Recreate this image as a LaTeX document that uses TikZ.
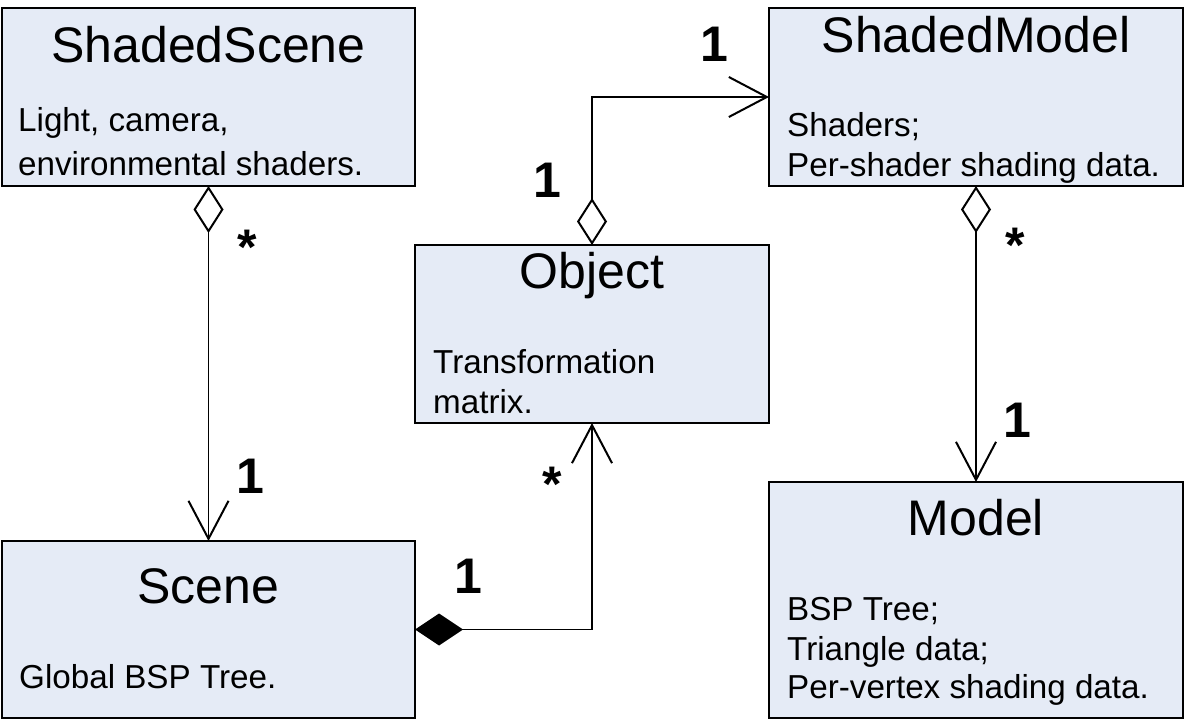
\documentclass[tikz,border=0pt]{standalone}
\usepackage{fontspec}
\setmainfont{Liberation Sans}
\usetikzlibrary{arrows.meta}
\definecolor{boxfill}{RGB}{229,235,246}
\tikzset{
  box/.style={draw=black, fill=boxfill, line width=2.6bp, inner sep=0pt, outer sep=0pt, anchor=north west},
  title/.style={inner sep=0pt, anchor=base, font=\fontsize{50bp}{60bp}\selectfont},
  body/.style={inner sep=0pt, anchor=base west, font=\fontsize{33.2bp}{40bp}\selectfont},
  mult/.style={inner sep=0pt, font=\fontsize{50bp}{58bp}\selectfont\bfseries},
  conn/.style={draw=black, line width=1.6bp},
  agg/.style={{Diamond[open, fill=white, length=47bp, width=30bp, line width=2bp]}-{Straight Barb[length=38bp, width=40bp, line width=2bp]}},
  comp/.style={{Diamond[length=48bp, width=32bp]}-{Straight Barb[length=38bp, width=40bp, line width=2bp]}}
}
\begin{document}
\begin{tikzpicture}[x=1bp, y=-1bp]
\useasboundingbox (0,0) rectangle (1185,720);
% boxes
\node[box, minimum width=413bp, minimum height=178bp] (ss) at (2,8) {};
\node[box, minimum width=414bp, minimum height=178bp] (sm) at (769,8) {};
\node[box, minimum width=354bp, minimum height=178bp] (obj) at (415,245) {};
\node[box, minimum width=413bp, minimum height=177bp] (sc) at (2,541) {};
\node[box, minimum width=414bp, minimum height=236bp] (md) at (769,482) {};
% titles
\node[title] (sst) at (208.5,63) {ShadedScene};
\node[title] (smt) at (976,53) {ShadedModel};
\node[title] (objt) at (592,288) {Object};
\node[title] (sct) at (208.5,603) {Scene};
\node[title] (mdt) at (976,535) {Model};
% bodies
\node[body] (ss1) at (18,132) {Light, camera,};
\node[body] (ss2) at (18,176) {environmental shaders.};
\node[body] (sm1) at (787,137) {Shaders;};
\node[body] (sm2) at (787,177) {Per-shader shading data.};
\node[body] (obj1) at (433,373) {Transformation};
\node[body] (obj2) at (433,413) {matrix.};
\node[body] (sc1) at (19,688) {Global BSP Tree.};
\node[body] (md1) at (787,620) {BSP Tree;};
\node[body] (md2) at (787,660) {Triangle data;};
\node[body] (md3) at (787,698) {Per-vertex shading data.};
% connectors
\draw[conn, agg] (ss.south) -- (sc.north);
\draw[conn, agg] (sm.south) -- (md.north);
\draw[conn, agg] (obj.north) |- (sm.west);
\draw[conn, comp] (sc.east) -| (obj.south);
% multiplicities
\node[mult, anchor=north] (m1) at (247,230) {*};
\node[mult, anchor=base] (m2) at (250,493) {1};
\node[mult, anchor=base] (m3) at (547,198) {1};
\node[mult, anchor=base] (m4) at (714,62) {1};
\node[mult, anchor=north] (m5) at (1015,228) {*};
\node[mult, anchor=base] (m6) at (1017,437) {1};
\node[mult, anchor=base] (m7) at (468,593) {1};
\node[mult, anchor=north] (m8) at (552,467) {*};
\end{tikzpicture}
\end{document}
